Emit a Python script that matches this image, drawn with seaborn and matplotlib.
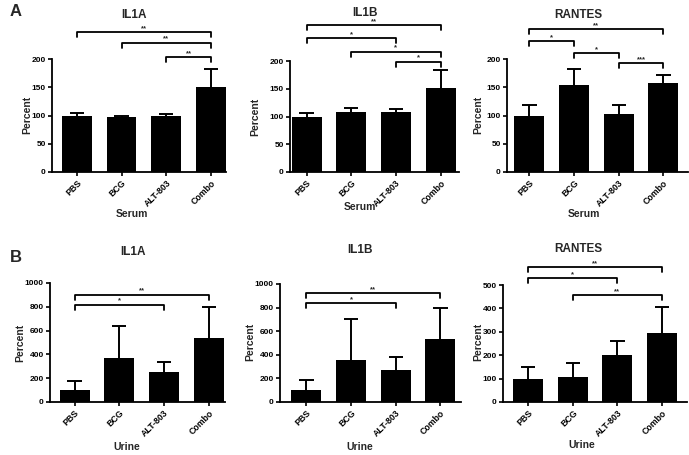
import numpy as np
import pandas as pd
import seaborn as sns
import matplotlib.pyplot as plt
from matplotlib.transforms import Affine2D

groups = ["PBS", "BCG", "ALT-803", "Combo"]

# Serum (panel A) - mean and upper error
serum_il1a = [100, 97, 99, 151]
serum_il1a_err = [4, 2, 3, 32]
serum_il1b = [100, 108, 109, 151]
serum_il1b_err = [7, 8, 5, 32]
serum_rantes = [100, 154, 103, 158]
serum_rantes_err = [18, 28, 16, 14]

# Urine (panel B)
urine_il1a = [100, 370, 250, 535]
urine_il1a_err = [75, 270, 90, 260]
urine_il1b = [100, 355, 270, 535]
urine_il1b_err = [90, 350, 115, 260]
urine_rantes = [100, 105, 200, 295]
urine_rantes_err = [48, 63, 62, 110]

# significance brackets: (from, to, height, label)
serum_il1a_sig = [(0, 3, 248, "**"), (1, 3, 229, "**"), (2, 3, 203, "**")]
serum_il1b_sig = [(0, 3, 265, "**"), (0, 2, 241, "*"), (1, 3, 217, "*"), (2, 3, 199, "*")]
serum_rantes_sig = [(0, 3, 253, "**"), (0, 1, 231, "*"), (1, 2, 211, "*"), (2, 3, 193, "***")]
urine_il1a_sig = [(0, 3, 902, "**"), (0, 2, 818, "*")]
urine_il1b_sig = [(0, 3, 925, "**"), (0, 2, 837, "*")]
urine_rantes_sig = [(0, 3, 578, "**"), (0, 2, 528, "*"), (1, 3, 457, "**")]

sns.set_style("ticks")
plt.rcParams["font.family"] = ["Liberation Sans", "DejaVu Sans"]
plt.rcParams["font.weight"] = "bold"

W, H = 689, 455
fig = plt.figure(figsize=(W / 100, H / 100), dpi=100)
# pixel coords with origin at top-left
pxT = Affine2D().scale(1 / W, -1 / H).translate(0, 1) + fig.transFigure

SP = 44.7  # px per category

panels = [
    # title, means, err, sig, sample, ymax, ystep, left px, bottom px, top px, xlo, xhi, title xy, xlabel xy, ylabel xy
    ("IL1A", serum_il1a, serum_il1a_err, serum_il1a_sig, "Serum", 200, 50, 52, 172, 59, -0.555, 3.33, (134, 15), (132, 214), (27, 115)),
    ("IL1B", serum_il1b, serum_il1b_err, serum_il1b_sig, "Serum", 200, 50, 290, 172, 61, -0.37, 3.42, (365, 13), (360, 207), (255, 117)),
    ("RANTES", serum_rantes, serum_rantes_err, serum_rantes_sig, "Serum", 200, 50, 507, 172, 59, -0.50, 3.55, (578, 15), (584, 214), (478, 115)),
    ("IL1A", urine_il1a, urine_il1a_err, urine_il1a_sig, "Urine", 1000, 200, 50, 402, 283, -0.55, 3.36, (133, 252), (127, 447), (20, 343)),
    ("IL1B", urine_il1b, urine_il1b_err, urine_il1b_sig, "Urine", 1000, 200, 280, 402, 284, -0.59, 3.45, (360, 250), (360, 447), (250, 342)),
    ("RANTES", urine_rantes, urine_rantes_err, urine_rantes_sig, "Urine", 500, 100, 503, 402, 285, -0.56, 3.55, (578, 249), (582, 445), (478, 342)),
]

for (title, means, err, sig, sample, ymax, ystep, lpx, bpx, tpx, xlo, xhi,
     tpos, xlpos, ylpos) in panels:
    wpx = (xhi - xlo) * SP
    ax = fig.add_axes([lpx / W, 1 - bpx / H, wpx / W, (bpx - tpx) / H])
    df = pd.DataFrame({"group": groups, "value": means})
    sns.barplot(data=df, x="group", y="value", color="black", saturation=1,
                width=0.67, errorbar=None, linewidth=0, ax=ax)
    # upper-only error bars
    tops = np.array(means) + np.array(err)
    ax.vlines(range(4), means, tops, color="black", lw=1.4)
    ax.hlines(tops, np.arange(4) - 0.16, np.arange(4) + 0.16, color="black", lw=1.4)
    ax.set_xlim(xlo, xhi)
    ax.set_ylim(0, ymax)
    ax.set_yticks(np.arange(0, ymax + 1, ystep))
    ax.set_xticks(range(4))
    ax.set_xticklabels(groups, rotation=45, ha="right", rotation_mode="anchor",
                       fontsize=6.3, fontweight="bold")
    for lab in ax.get_yticklabels():
        lab.set_fontsize(6)
        lab.set_fontweight("bold")
    ax.tick_params(length=3, width=1.2, pad=1.5, colors="black")
    for s in ["left", "bottom"]:
        ax.spines[s].set_linewidth(1.3)
        ax.spines[s].set_color("black")
    sns.despine(ax=ax)

    ax.set_xlabel(sample, fontsize=7.5, fontweight="bold")
    ax.set_ylabel("Percent", fontsize=7.5, fontweight="bold")
    ax.xaxis.set_label_coords(xlpos[0], xlpos[1], transform=pxT)
    ax.yaxis.set_label_coords(ylpos[0], ylpos[1], transform=pxT)
    ax.xaxis.label.set_va("center")
    ax.yaxis.label.set_va("center")
    fig.text(tpos[0] / W, 1 - tpos[1] / H, title, ha="center", va="center",
             fontsize=8.5, fontweight="bold")

    drop = ymax * 5 / (bpx - tpx)
    for i, j, y, lab in sig:
        ax.plot([i, i, j, j], [y - drop, y, y, y - drop], color="black",
                lw=1.3, clip_on=False)
        ax.text((i + j) / 2, y, lab, ha="center", va="bottom",
                fontsize=5.5, fontweight="bold", clip_on=False)

fig.text(10 / W, 1 - 12 / H, "A", ha="left", va="center", fontsize=12, fontweight="bold")
fig.text(10 / W, 1 - 258 / H, "B", ha="left", va="center", fontsize=12, fontweight="bold")

fig.savefig("out.png", dpi=100)
